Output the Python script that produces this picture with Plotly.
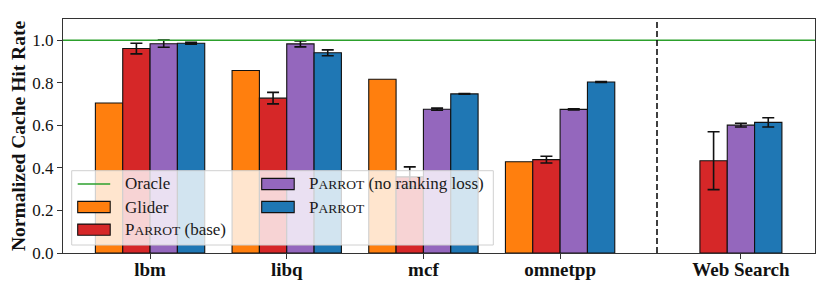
import plotly.graph_objects as go

# ---------------- data ----------------
categories = ["lbm", "libq", "mcf", "omnetpp", "Web Search"]
group_pos = [0, 1, 2, 3, 4.323]
separator_pos = 3.709

glider = [0.705, 0.858, 0.817, 0.429, None]
parrot_base = [0.961, 0.728, 0.358, 0.439, 0.434]
parrot_base_err = [0.025, 0.027, 0.047, 0.016, 0.136]
parrot_norank = [0.984, 0.983, 0.676, 0.675, 0.601]
parrot_norank_err = [0.017, 0.014, 0.005, 0.003, 0.009]
parrot = [0.986, 0.941, 0.748, 0.804, 0.614]
parrot_err = [0.004, 0.014, 0.002, 0.002, 0.022]
oracle = 1.0

y_ticks = [0.0, 0.2, 0.4, 0.6, 0.8, 1.0]

# ---------------- style ----------------
C_ORANGE = "#ff7f0e"
C_RED = "#d62728"
C_PURPLE = "#9467bd"
C_BLUE = "#1f77b4"
C_GREEN = "#2ca02c"
FONT = "Liberation Serif"
BAR_W = 0.2

# offsets: 4 bars for SPEC groups, 3 bars for Web Search (no Glider)
off4 = [-0.3, -0.1, 0.1, 0.3]
off3 = [None, -0.2, 0.0, 0.2]


def xs(series_idx):
    out = []
    for i, g in enumerate(group_pos):
        if categories[i] == "Web Search":
            o = off3[series_idx]
            out.append(g + o if o is not None else g)
        else:
            out.append(g + off4[series_idx])
    return out


def sc(name):
    return name.replace("PARROT", "P<span style='font-size:13.5px'>ARROT</span>")


fig = go.Figure()

x_range = [-0.637, 4.865]

series = [
    ("Glider", glider, None, C_ORANGE),
    ("PARROT (base)", parrot_base, parrot_base_err, C_RED),
    ("PARROT (no ranking loss)", parrot_norank, parrot_norank_err, C_PURPLE),
    ("PARROT", parrot, parrot_err, C_BLUE),
]

for k, (name, vals, errs, col) in enumerate(series):
    kw = {}
    if errs is not None:
        kw["error_y"] = dict(type="data", array=errs, visible=True,
                             color="#111111", thickness=1.6, width=6)
    fig.add_trace(go.Bar(
        x=xs(k), y=vals, width=BAR_W, name=name,
        marker=dict(color=col, line=dict(color="#111111", width=1.1)),
        showlegend=False, **kw))

fig.add_trace(go.Scatter(
    x=x_range, y=[oracle, oracle], mode="lines", name="Oracle",
    line=dict(color=C_GREEN, width=1.6), showlegend=False))

# ---------------- layout geometry ----------------
# the page body has an 8px margin, so the figure is drawn 8px in from the corner
OFF = 8
FIG_W, FIG_H = 830 - OFF, 291 - OFF
L, T, PW, PH = 63 - OFF, 19 - OFF, 752, 234


def px_x(p):  # reference-screen pixel -> paper
    return (p - OFF - L) / PW


def px_y(p):
    return (T + PH - (p - OFF)) / PH


shapes = []
annotations = []

# legend frame
shapes.append(dict(type="rect", xref="paper", yref="paper",
                   x0=px_x(71.7), x1=px_x(493.3), y0=px_y(245), y1=px_y(170.7),
                   fillcolor="rgba(255,255,255,0.8)",
                   line=dict(color="#d0d0d0", width=1), layer="above"))

legend_items = [
    ("Oracle", "line", C_GREEN, 77.7, 184.0),
    ("Glider", "rect", C_ORANGE, 77.7, 207.0),
    ("PARROT (base)", "rect", C_RED, 77.7, 229.7),
    ("PARROT (no ranking loss)", "rect", C_PURPLE, 261.7, 184.0),
    ("PARROT", "rect", C_BLUE, 261.7, 207.0),
]
for name, kind, col, x0, yc in legend_items:
    if kind == "line":
        shapes.append(dict(type="line", xref="paper", yref="paper",
                           x0=px_x(x0), x1=px_x(x0 + 32.5), y0=px_y(yc), y1=px_y(yc),
                           line=dict(color=col, width=1.6), layer="above"))
    else:
        shapes.append(dict(type="rect", xref="paper", yref="paper",
                           x0=px_x(x0), x1=px_x(x0 + 32.5),
                           y0=px_y(yc + 5.6), y1=px_y(yc - 5.6),
                           fillcolor=col, line=dict(color="#111111", width=1.1),
                           layer="above"))
    annotations.append(dict(xref="paper", yref="paper", x=px_x(x0 + 45.6), y=px_y(yc),
                            xanchor="left", yanchor="middle", showarrow=False,
                            text=sc(name), font=dict(family=FONT, size=17, color="#1a1a1a")))

# dashed separator
shapes.append(dict(type="line", xref="x", yref="paper", x0=separator_pos, x1=separator_pos,
                   y0=0, y1=1, line=dict(color="#111111", width=1.6, dash="6px,3px")))

fig.update_layout(
    width=FIG_W, height=FIG_H,
    margin=dict(l=L, r=FIG_W - L - PW, t=T, b=FIG_H - T - PH, pad=0, autoexpand=False),
    plot_bgcolor="white", paper_bgcolor="white",
    barmode="overlay",
    shapes=shapes, annotations=annotations,
    font=dict(family=FONT, color="#111111"),
    xaxis=dict(range=x_range, tickmode="array", tickvals=group_pos,
               ticktext=["<b>%s</b>" % c for c in categories],
               tickfont=dict(family=FONT, size=19, color="#111111"),
               ticks="outside", ticklen=5, tickcolor="#333333",
               ticklabelstandoff=-6,
               showline=True, linecolor="#333333", linewidth=1.2, mirror=True,
               showgrid=False, zeroline=False, automargin=False),
    yaxis=dict(range=[0, 1.1], tickmode="array", tickvals=y_ticks,
               ticktext=["%.1f" % v for v in y_ticks],
               tickfont=dict(family=FONT, size=17, color="#111111"),
               ticks="outside", ticklen=5, tickcolor="#333333",
               showline=True, linecolor="#333333", linewidth=1.2, mirror=True,
               showgrid=False, zeroline=False, automargin=False,
               title=dict(text="<b>Normalized Cache Hit Rate</b>",
                          font=dict(family=FONT, size=19.5, color="#111111"),
                          standoff=2)),
)

fig.write_html("out.html")
